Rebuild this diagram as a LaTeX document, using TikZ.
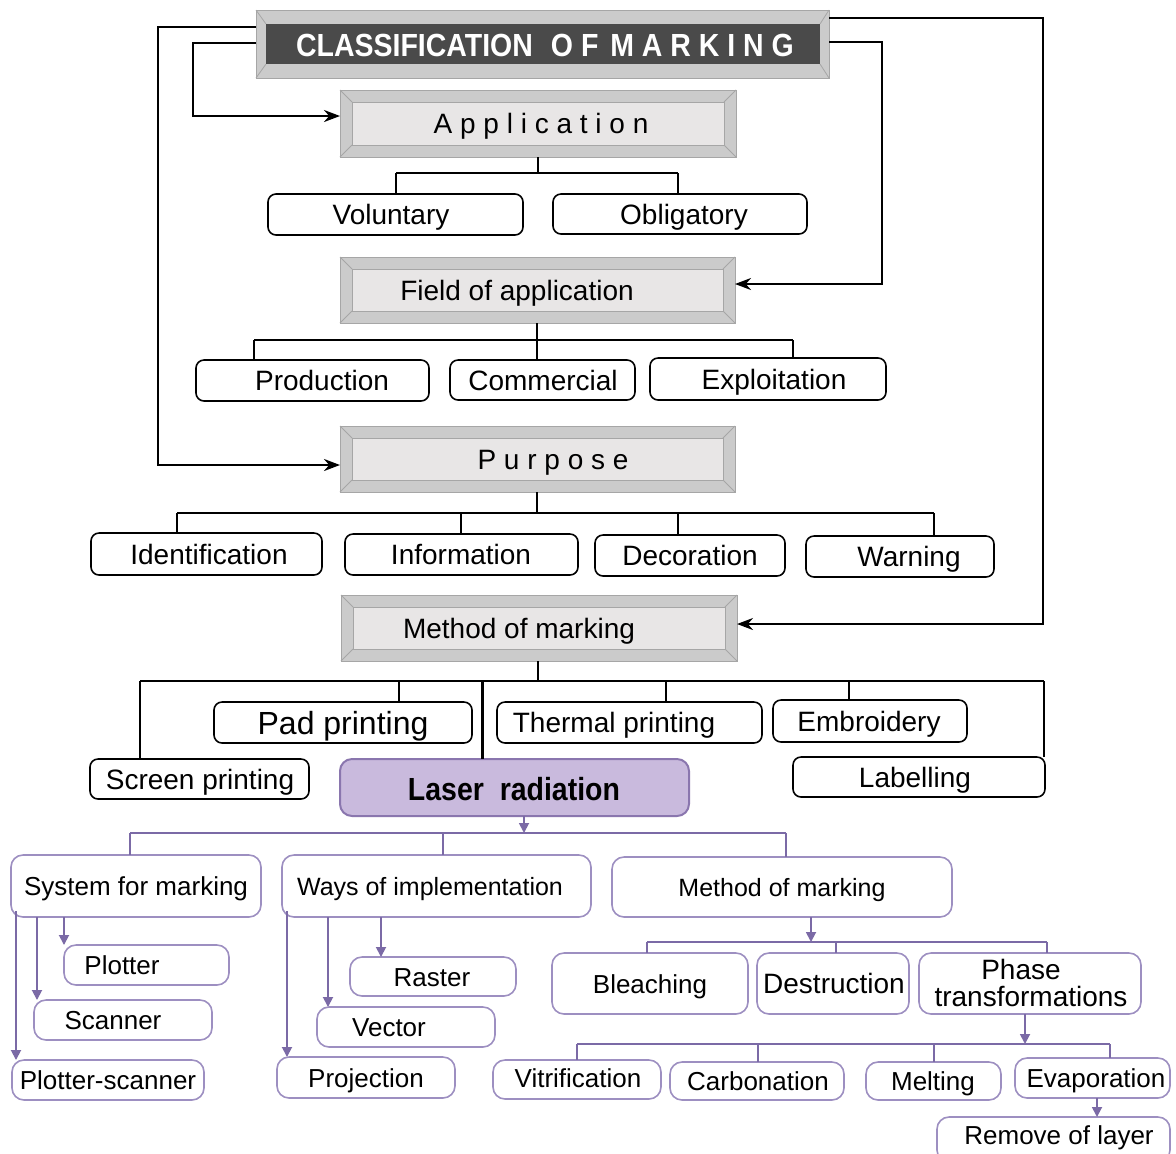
\documentclass[tikz,border=0pt]{standalone}
\usepackage{fontspec}
\setmainfont{Liberation Sans}
\newfontfamily\narrowfont[FakeStretch=0.89]{Liberation Sans}
\usetikzlibrary{arrows.meta,calc}
\definecolor{bevelout}{HTML}{CBCBCB}
\definecolor{bevelin}{HTML}{E8E6E6}
\definecolor{bevelline}{HTML}{A6A6A6}
\definecolor{titledark}{HTML}{4A4A4A}
\definecolor{plum}{HTML}{7B6AA6}
\definecolor{plumbox}{HTML}{9D8FC1}
\definecolor{laserfill}{HTML}{C9BADD}
\definecolor{laserdraw}{HTML}{8A76AE}
\newcommand\fs[1]{\fontsize{#1}{#1}\selectfont}
\newcommand\rbox[9]{%
  \node[#1, minimum width={(#5-#3)*0.5pt}, minimum height={(#6-#4)*0.5pt}] (#2) at ({(#3+#5)/2},{(#4+#6)/2}) {};%
  \node[txt] (#2-t) at (#7,#8) {#9};}
\newcommand\bevel[6]{%
  \node[bevelbox, minimum width={(#4-#2)*0.5pt}, minimum height={(#5-#3)*0.5pt}] (#1) at ({(#2+#4)/2},{(#3+#5)/2}) {};%
  \fill[bevelin,draw=bevelline,line width=0.4pt] ({#2+#6},{#3+#6}) rectangle ({#4-#6},{#5-#6});%
  \draw[bevelline,line width=0.4pt] (#2,#3) -- ({#2+#6},{#3+#6}) (#4,#3) -- ({#4-#6},{#3+#6}) (#2,#5) -- ({#2+#6},{#5-#6}) (#4,#5) -- ({#4-#6},{#5-#6});}
\tikzset{
  txt/.style={anchor=base, inner sep=0pt, outer sep=0pt, font=\fs{14}},
  bbox/.style={draw=black, line width=0.8pt, rounded corners=4pt, fill=white, inner sep=0pt, outer sep=0pt},
  pbox/.style={draw=plumbox, line width=0.8pt, rounded corners=6pt, fill=white, inner sep=0pt, outer sep=0pt},
  laserbox/.style={draw=laserdraw, fill=laserfill, line width=1pt, rounded corners=6pt, inner sep=0pt, outer sep=0pt},
  bevelbox/.style={fill=bevelout, draw=bevelline, line width=0.4pt, inner sep=0pt, outer sep=0pt},
  tree/.style={line width=0.8pt, black},
  fb/.style={line width=1.2pt, black, -{Stealth[length=8pt,width=6pt]}},
  ptree/.style={line width=0.9pt, plum},
  parr/.style={ptree, -{Triangle[length=5pt,width=5pt]}}
}
\begin{document}
\begin{tikzpicture}[x=0.5pt,y=-0.5pt]
\fill[white] (0,0) rectangle (1176,1153);
\useasboundingbox (0,0) rectangle (1176,1153);

% title
\node[bevelbox, minimum width={(829-256)*0.5pt}, minimum height={(78-10)*0.5pt}] (title) at (542.5,44) {};
\draw[bevelline,line width=0.4pt] (256,10) -- (266,24) (829,10) -- (820,24) (256,78) -- (266,64) (829,78) -- (820,64);
\fill[titledark] (266,24) rectangle (820,64);
\node[txt, text=white, font=\narrowfont\bfseries\fs{16}] (title-t) at (545,56) {CLASSIFICATION\hspace{9pt}O F\hspace{2pt} M A R K I N G};

% bevel boxes
\bevel{app}{340}{90}{736}{157}{12}
\node[txt] (app-t) at (541,133) {A p p l i c a t i o n};
\bevel{field}{340}{257}{735}{323}{12}
\node[txt] (field-t) at (517,300) {Field of application};
\bevel{purp}{340}{426}{735}{492}{12}
\node[txt] (purp-t) at (553,469) {P u r p o s e};
\bevel{meth}{341}{595}{737}{661}{12}
\node[txt] (meth-t) at (519,638) {Method of marking};

% level boxes
\rbox{bbox}{vol}{268}{194}{523}{235}{391}{224.5}{Voluntary}
\rbox{bbox}{obl}{553}{194}{807}{234}{684}{224}{Obligatory}
\rbox{bbox}{prod}{196}{360}{429}{401}{322}{390.5}{Production}
\rbox{bbox}{comm}{450}{360}{635}{400}{543}{390}{Commercial}
\rbox{bbox}{expl}{650}{358}{886}{400}{774}{389}{Exploitation}
\rbox{bbox}{ident}{91}{533}{322}{575}{209}{564}{Identification}
\rbox{bbox}{info}{345}{534}{578}{575}{461}{564.5}{Information}
\rbox{bbox}{deco}{595}{535}{785}{576}{690}{565.5}{Decoration}
\rbox{bbox}{warn}{806}{536}{994}{577}{909}{566.5}{Warning}
\rbox{bbox}{pad}{214}{702}{472}{743}{343}{734}{\fs{16}Pad printing}
\rbox{bbox}{therm}{497}{702}{762}{743}{614}{732.5}{Thermal printing}
\rbox{bbox}{embr}{773}{700}{967}{742}{869}{731}{Embroidery}
\rbox{bbox}{screen}{90}{759}{309}{799}{200}{789}{Screen printing}
\rbox{bbox}{label}{793}{757}{1045}{797}{915}{787}{Labelling}
\rbox{laserbox}{laser}{340}{759}{689}{816}{514}{800}{\narrowfont\bfseries\fs{16}Laser\ \ radiation}

% purple boxes
\rbox{pbox}{sys}{11}{855}{261}{917}{136}{895.5}{\fs{13}System for marking}
\rbox{pbox}{ways}{282}{855}{591}{917}{430}{895}{\fs{12.5}Ways of implementation}
\rbox{pbox}{meth2}{612}{857}{952}{917}{782}{896}{\fs{12.5}Method of marking}
\rbox{pbox}{plot}{64}{945}{229}{985}{122}{974}{\fs{13}Plotter}
\rbox{pbox}{scan}{34}{1000}{212}{1040}{113}{1029}{\fs{13}Scanner}
\rbox{pbox}{pscan}{12}{1060}{204}{1100}{108}{1089}{\fs{13}Plotter-scanner}
\rbox{pbox}{raster}{350}{957}{516}{996}{432}{986}{\fs{13}Raster}
\rbox{pbox}{vect}{317}{1007}{495}{1047}{389}{1036}{\fs{13}Vector}
\rbox{pbox}{proj}{277}{1057}{455}{1098}{366}{1087}{\fs{13}Projection}
\rbox{pbox}{bleach}{552}{953}{748}{1014}{650}{993}{\fs{13}Bleaching}
\rbox{pbox}{destr}{757}{953}{909}{1014}{834}{993.5}{Destruction}
\rbox{pbox}{phase}{919}{953}{1141}{1014}{1021}{979}{Phase}
\node[txt] (phase-t2) at (1031,1006) {transformations};
\rbox{pbox}{vitr}{493}{1060}{661}{1099}{578}{1087}{\fs{13}Vitrification}
\rbox{pbox}{carb}{670}{1062}{844}{1100}{758}{1090}{\fs{13}Carbonation}
\rbox{pbox}{melt}{866}{1062}{1001}{1100}{933}{1090}{\fs{13}Melting}
\rbox{pbox}{evap}{1015}{1058}{1170}{1098}{1096}{1087}{\fs{13}Evaporation}
\rbox{pbox}{remove}{937}{1117}{1170}{1162}{1059}{1144}{\fs{13}Remove of layer}

% feedback arrows
\draw[fb] (title.west |- 0,27) -| (158,465) -- (purp.west |- 0,465);
\draw[fb] (title.west |- 0,43) -| (193,116) -- (app.west |- 0,116);
\draw[fb] (title.east |- 0,18) -| (1043,624) -- (meth.east |- 0,624);
\draw[fb] (title.east |- 0,42) -| (882,284) -- (field.east |- 0,284);

% black tree
\draw[tree] (app.south -| 538,0) -- (538,173);
\draw[tree] (396,173) -- (678,173);
\draw[tree] (396,173) -- (vol.north -| 396,0);
\draw[tree] (678,173) -- (obl.north -| 678,0);

\draw[tree] (field.south -| 537,0) -- (537,340);
\draw[tree] (254,340) -- (793,340);
\draw[tree] (254,340) -- (prod.north -| 254,0);
\draw[tree] (537,340) -- (comm.north -| 537,0);
\draw[tree] (793,340) -- (expl.north -| 793,0);

\draw[tree] (purp.south -| 537,0) -- (537,513);
\draw[tree] (177,513) -- (934,513);
\draw[tree] (177,513) -- (ident.north -| 177,0);
\draw[tree] (461,513) -- (info.north -| 461,0);
\draw[tree] (678,513) -- (deco.north -| 678,0);
\draw[tree] (934,513) -- (warn.north -| 934,0);

\draw[tree] (meth.south -| 538,0) -- (538,681);
\draw[tree] (140,681) -- (1044,681);
\draw[tree] (140,681) -- (screen.north -| 140,0);
\draw[tree] (399,681) -- (pad.north -| 399,0);
\draw[tree, line width=1.5pt] (482,681) -- (laser.north -| 482,0);
\draw[tree] (666,681) -- (therm.north -| 666,0);
\draw[tree] (849,681) -- (embr.north -| 849,0);
\draw[tree] (1044,681) -- (label.north -| 1044,0);

% purple tree
\draw[parr] (laser.south -| 524,0) -- (524,833);
\draw[ptree] (130,833) -- (786,833);
\draw[ptree] (130,833) -- (sys.north -| 130,0);
\draw[ptree] (443,833) -- (ways.north -| 443,0);
\draw[ptree] (786,833) -- (meth2.north -| 786,0);

\draw[parr] ($(sys.south -| 16,0)+(0,-6)$) -- (pscan.north -| 16,0);
\draw[parr] (sys.south -| 37,0) -- (scan.north -| 37,0);
\draw[parr] (sys.south -| 64,0) -- (plot.north -| 64,0);

\draw[parr] ($(ways.south -| 287,0)+(0,-6)$) -- (proj.north -| 287,0);
\draw[parr] (ways.south -| 328,0) -- (vect.north -| 328,0);
\draw[parr] (ways.south -| 381,0) -- (raster.north -| 381,0);

\draw[parr] (meth2.south -| 811,0) -- (811,942);
\draw[ptree] (647,942) -- (1047,942);
\draw[ptree] (647,942) -- (bleach.north -| 647,0);
\draw[ptree] (836,942) -- (destr.north -| 836,0);
\draw[ptree] (1047,942) -- (phase.north -| 1047,0);

\draw[parr] (phase.south -| 1025,0) -- (1025,1044);
\draw[ptree] (577,1044) -- (1110,1044);
\draw[ptree] (577,1044) -- (vitr.north -| 577,0);
\draw[ptree] (758,1044) -- (carb.north -| 758,0);
\draw[ptree] (934,1044) -- (melt.north -| 934,0);
\draw[ptree] (1110,1044) -- (evap.north -| 1110,0);

\draw[parr] (evap.south -| 1097,0) -- (remove.north -| 1097,0);
\end{tikzpicture}
\end{document}
